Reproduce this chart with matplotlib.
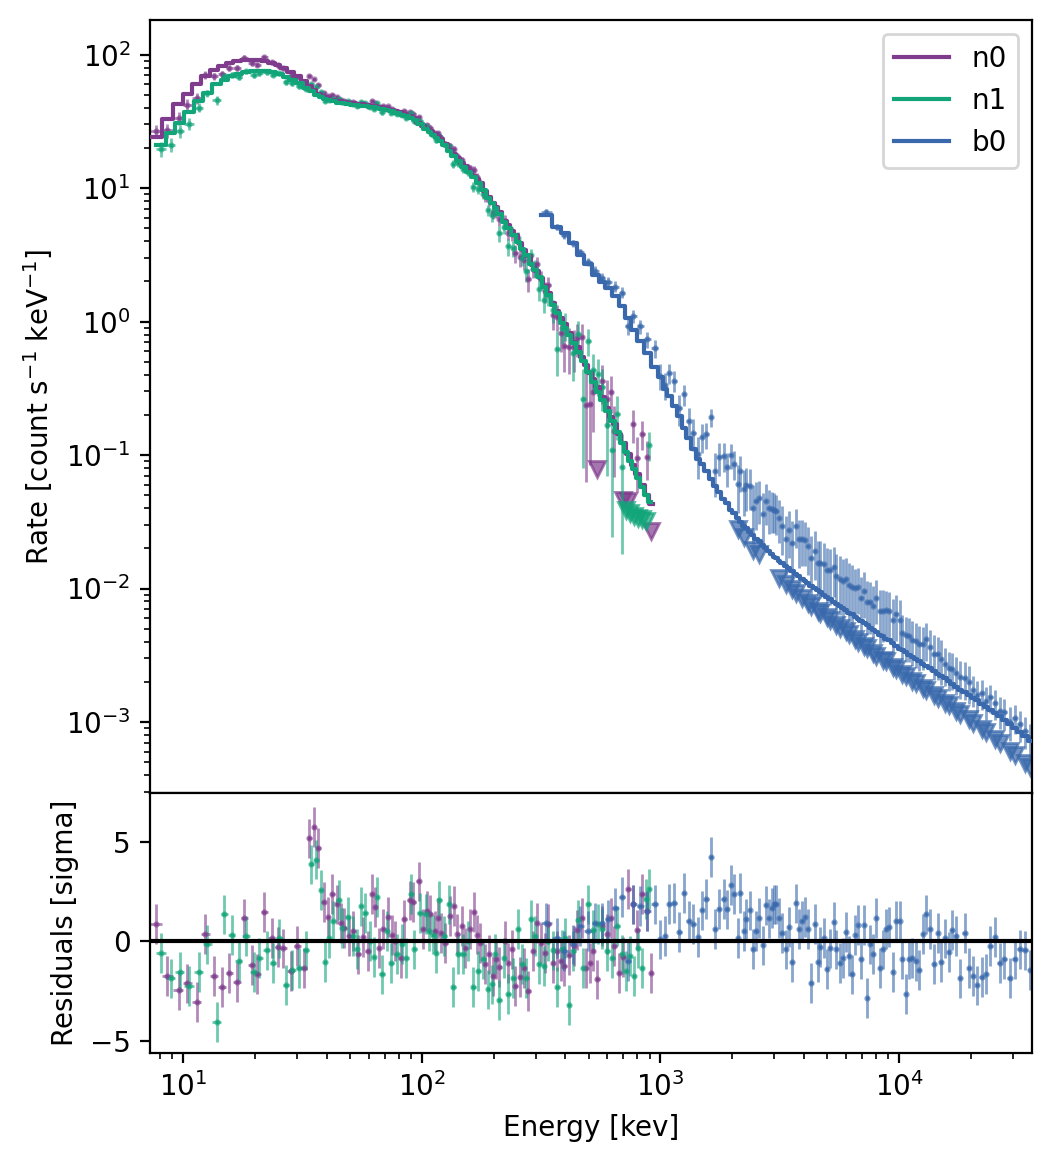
import numpy as np
import matplotlib
matplotlib.use("Agg")
from matplotlib import pyplot as plt

# ---------------- data ----------------
# n0 (NaI) : bin centres [keV], model rate, residual [sigma], relative error
n0_energy = [7.7, 8.6, 9.6, 10.4, 11.4, 12.4, 13.5, 14.6, 15.6, 16.9,
             18.1, 19.4, 20.5, 21.9, 23.6, 24.9, 26.2, 28.4, 30.1, 32.2,
             33.8, 35.5, 36.9, 38.8, 40.6, 42.3, 44.3, 45.8, 47.3, 49.7,
             51.6, 54.3, 56.8, 59.3, 62.1, 63.9, 66.4, 69.0, 72.5, 75.0,
             77.6, 81.6, 84.5, 89.6, 92.2, 97.8, 101.6, 105.6, 108.6, 113.9,
             117.3, 120.8, 125.6, 131.8, 136.9, 141, 147.9, 152.2, 159, 166.1,
             171, 176, 184.6, 191.9, 199.4, 205, 211.3, 223.9, 231, 239.5,
             246.6, 258.8, 268.9, 279.5, 293.3, 304.8, 316.8, 328, 339, 355.6,
             369.6, 384.1, 395.4, 415, 435.5, 448.3, 470.4, 489, 508, 523.1,
             543.6, 570.5, 598.7, 622.3, 640.5, 672.2, 698.6, 733.2, 769.5, 799.7,
             839, 880.6, 915]
n0_model = [24.3, 33, 43, 51, 60, 69, 77, 82, 86, 89,
            90.5, 91, 91, 90, 87, 84, 80, 74, 69, 63,
            58, 54, 51, 48.5, 47, 46, 45.2, 44.7, 44.3, 43.7,
            43.3, 42.8, 42.4, 42, 41.5, 41.2, 40.7, 40.1, 39.3, 38.7,
            38, 36.9, 36.2, 34.5, 33.4, 30.6, 29.2, 27.8, 26.9, 25.3,
            24.4, 23.4, 21.5, 19.4, 17.9, 16.9, 15.5, 14.6, 13.5, 12.4,
            11.8, 10.9, 9.6, 8.65, 7.8, 7.23, 6.67, 5.7, 5.25, 4.77,
            4.42, 3.88, 3.46, 3.08, 2.67, 2.38, 2.11, 1.86, 1.65, 1.39,
            1.21, 1.06, 0.964, 0.822, 0.703, 0.64, 0.542, 0.471, 0.41, 0.37,
            0.322, 0.271, 0.224, 0.193, 0.172, 0.143, 0.123, 0.102, 0.0843, 0.0725,
            0.06, 0.0498, 0.0428]
n0_resid = [0.84, -1.76, -2.48, -2.13, -3.05, 0.37, -1.76, -2.31, -1.59, -2.04,
            1.14, -1.21, -1.64, 1.47, 0.17, -0.3, -0.37, -1.51, -0.25, -1.34,
            5.16, 5.75, 4.69, 1.98, 1.2, 2.38, 1.84, 0.9, 0.67, 0.25,
            0.5, -0.67, 0.2, -0.5, 2.35, 1.7, -0.34, 0.59, 1.2, 0.3,
            0.0, -0.84, 1.09, 2.04, 1.98, 3.0, 0.62, 1.5, 1.34, 0.5,
            1.17, 0.4, -0.1, 1.26, 1.76, 0.37, 0.75, -0.33, 0.6, 1.47,
            0.33, -0.08, -1.17, -0.67, -1.76, -0.9, -1.3, 0.0, -1.1, -0.42,
            -2.26, -1.81, -1.34, -2.51, -0.5, 0.92, -0.08, -0.6, 0.84, -1.09,
            -0.5, -1.0, -1.26, -0.7, -0.25, 0.54, 1.17, -1.34, -1.09, -0.5,
            -1.93, 0.75, 0.37, 1.17, -0.25, -1.6, -0.8, 2.6, 1.84, 0.54,
            2.35, 1.5, -1.6]
n0_relerr = [0.12, 0.1, 0.09, 0.08, 0.07, 0.065, 0.06, 0.055, 0.05, 0.05,
             0.045, 0.045, 0.045, 0.04, 0.04, 0.04, 0.04, 0.04, 0.038, 0.038,
             0.038, 0.036, 0.036, 0.036, 0.035, 0.035, 0.035, 0.035, 0.035, 0.035,
             0.035, 0.035, 0.035, 0.035, 0.035, 0.035, 0.035, 0.035, 0.035, 0.035,
             0.036, 0.036, 0.037, 0.038, 0.038, 0.04, 0.04, 0.042, 0.043, 0.045,
             0.046, 0.048, 0.05, 0.053, 0.056, 0.058, 0.062, 0.065, 0.068, 0.072,
             0.075, 0.078, 0.082, 0.086, 0.09, 0.093, 0.097, 0.1, 0.105, 0.11,
             0.115, 0.12, 0.125, 0.13, 0.14, 0.15, 0.155, 0.16, 0.17, 0.18,
             0.2, 0.22, 0.25, 0.3, 0.32, 0.33, 0.35, 0.37, 0.38, 0.4,
             0.41, 0.43, 0.45, 0.47, 0.48, 0.5, 0.52, 0.54, 0.56, 0.58,
             0.6, 0.62, 0.64]
n0_ul_energy = [543.6, 698.6, 733.2, 915]
n0_ul_rate = [0.078, 0.046, 0.045, 0.027]

# n1 (NaI)
n1_energy = [8.1, 8.9, 9.7, 10.6, 11.7, 12.6, 13.9, 14.9, 16.1, 17.1,
             18.4, 19.8, 20.9, 22.5, 23.9, 25.3, 27.1, 28.7, 30.7, 32.8,
             34.4, 36.2, 38.0, 39.5, 41.1, 42.7, 45.2, 46.5, 48.9, 51.8,
             53.8, 55.9, 58.1, 60.9, 63.3, 64.9, 68.2, 71.6, 74.5, 78.9,
             82.9, 86.1, 90.5, 93.1, 98.8, 104.7, 107.6, 111.9, 115.2, 118.6,
             124.4, 130.5, 135.6, 142.3, 149.4, 156.7, 164.5, 172.6, 181.1, 190.1,
             197.5, 203.3, 211.3, 221.8, 230.5, 241.9, 253.8, 263.8, 274.2, 287.7,
             299.1, 310.9, 326.3, 339, 355.6, 369.6, 388, 399, 415, 431.5,
             452.6, 475, 498.5, 523, 549, 570.5, 598.7, 628, 659, 692,
             719, 747, 776.5, 807, 839, 872, 897.5]
n1_model = [21.2, 26, 31, 37, 45, 52, 60, 65, 69.5, 72,
            74, 75.5, 75.5, 75, 74, 72, 68.5, 65, 61, 56.5,
            53, 50, 48, 46.5, 45.5, 44.6, 43.7, 43.3, 42.8, 42.3,
            42.0, 41.6, 41.2, 40.7, 40.3, 40.0, 39.3, 38.5, 37.8, 36.7,
            35.6, 34.7, 33.3, 32.4, 30.2, 27.6, 26.4, 24.8, 23.6, 22.4,
            21.0, 19.0, 17.5, 15.9, 14.5, 13.2, 12.1, 11.0, 9.7, 8.5,
            7.7, 7.1, 6.4, 5.6, 5.07, 4.46, 3.94, 3.51, 3.13, 2.72,
            2.42, 2.15, 1.82, 1.58, 1.33, 1.16, 0.98, 0.90, 0.79, 0.695,
            0.595, 0.504, 0.422, 0.355, 0.298, 0.26, 0.215, 0.179, 0.149, 0.123,
            0.106, 0.091, 0.078, 0.067, 0.058, 0.050, 0.0445]
n1_resid = [-0.59, -1.88, -1.54, -2.26, -1.54, -0.17, -4.05, 1.34, 0.3, -1.0,
            0.25, -1.54, -0.84, -0.47, -1.09, 0.13, -2.21, -1.47, -1.37, -0.47,
            3.85, 4.1, 2.55, -1.04, 0.13, 1.0, 2.08, 0.67, 1.2, 0.25,
            -0.4, 1.74, 1.42, 0.0, -0.8, 2.21, -1.68, 0.5, -1.09, -0.64,
            -0.13, -0.84, 2.35, -0.42, 1.42, 1.37, 0.5, 0.33, -0.59, 2.04,
            0.25, 1.84, -2.31, -0.64, -0.64, 0.0, -2.31, -1.5, -0.92, -2.43,
            -2.18, -0.64, -2.98, -0.84, -2.65, -1.84, 0.59, -1.17, -1.84, 1.09,
            0.25, -1.17, -1.26, 0.0, -0.47, -2.31, -0.42, 0.17, -3.2, -0.5,
            1.04, -1.34, 1.84, 0.54, 0.84, 0.59, -0.5, -0.84, 0.75, -0.67,
            -1.5, -0.75, -1.76, -0.37, -1.34, 2.1, 2.6]
n1_relerr = [0.12, 0.1, 0.09, 0.08, 0.07, 0.065, 0.06, 0.055, 0.05, 0.05,
             0.045, 0.045, 0.045, 0.04, 0.04, 0.04, 0.04, 0.04, 0.038, 0.038,
             0.038, 0.036, 0.036, 0.036, 0.035, 0.035, 0.035, 0.035, 0.035, 0.035,
             0.035, 0.035, 0.035, 0.035, 0.035, 0.035, 0.035, 0.035, 0.035, 0.036,
             0.036, 0.037, 0.038, 0.038, 0.04, 0.042, 0.043, 0.045, 0.046, 0.047,
             0.05, 0.053, 0.056, 0.058, 0.062, 0.065, 0.068, 0.072, 0.076, 0.08,
             0.085, 0.09, 0.095, 0.1, 0.105, 0.11, 0.115, 0.12, 0.13, 0.14,
             0.15, 0.155, 0.16, 0.17, 0.18, 0.2, 0.22, 0.25, 0.28, 0.32,
             0.34, 0.36, 0.38, 0.4, 0.42, 0.43, 0.45, 0.47, 0.49, 0.51,
             0.53, 0.55, 0.57, 0.59, 0.61, 0.63, 0.65]
n1_ul_energy = [719, 747, 776.5, 807, 839, 872]
n1_ul_rate = [0.039, 0.037, 0.035, 0.034, 0.033, 0.032]

# b0 (BGO)
b0_energy = [333, 370, 396, 431, 462, 499, 534, 571, 605, 647,
             692, 733, 770, 823, 881, 951, 1000, 1050, 1091, 1144,
             1200, 1260, 1311, 1375, 1443, 1492, 1555, 1627, 1696, 1763,
             1838, 1898, 1973, 2025, 2104, 2159, 2230, 2288, 2362, 2432,
             2519, 2585, 2678, 2756, 2838, 2931, 2998, 3055, 3135, 3217,
             3342, 3440, 3553, 3693, 3790, 3913, 4040, 4132, 4280, 4421,
             4550, 4669, 4822, 4979, 5109, 5309, 5447, 5625, 5790, 5960,
             6155, 6336, 6543, 6713, 6911, 7136, 7322, 7562, 7758, 8012,
             8274, 8543, 8794, 9053, 9378, 9685, 10030, 10295, 10630, 11015,
             11338, 11706, 12090, 12526, 12976, 13400, 13925, 14470, 14944, 15480,
             16090, 16672, 17326, 18010, 18776, 19516, 20349, 21150, 22195, 23140,
             24050, 25240, 26320, 27530, 28980, 30410, 31910, 33710, 35380]
b0_model = [6.3, 5.1, 4.6, 3.9, 3.15, 2.7, 2.25, 1.98, 1.78, 1.55,
            1.3, 1.07, 0.87, 0.72, 0.58, 0.46, 0.385, 0.315, 0.275, 0.235,
            0.197, 0.16, 0.135, 0.112, 0.094, 0.085, 0.076, 0.066, 0.059, 0.053,
            0.047, 0.0435, 0.0388, 0.0365, 0.0335, 0.0315, 0.0295, 0.0282, 0.0266, 0.0252,
            0.0237, 0.0226, 0.0212, 0.0201, 0.0191, 0.0180, 0.0173, 0.0168, 0.0162, 0.0156,
            0.0148, 0.0142, 0.0136, 0.0129, 0.0124, 0.0118, 0.0113, 0.0110, 0.0105, 0.0101,
            0.0097, 0.0094, 0.0090, 0.0086, 0.0083, 0.0079, 0.0077, 0.0074, 0.0071, 0.0069,
            0.0066, 0.0064, 0.0061, 0.0059, 0.0057, 0.0055, 0.0053, 0.0051, 0.0049, 0.0047,
            0.0045, 0.0044, 0.0042, 0.0041, 0.0039, 0.0037, 0.00355, 0.00344, 0.00332, 0.00318,
            0.00307, 0.00296, 0.00285, 0.00273, 0.00262, 0.00252, 0.00241, 0.00230, 0.00221, 0.00212,
            0.00202, 0.00193, 0.00184, 0.00175, 0.00167, 0.00160, 0.00152, 0.00145, 0.00137, 0.00130,
            0.00123, 0.00116, 0.00110, 0.00103, 0.00096, 0.00090, 0.00084, 0.00078, 0.00072]
b0_resid = [0.92, 0.17, -0.5, -0.17, 0.75, 0.5, 0.92, 0.92, 1.09, 1.68,
            2.21, -1.0, 1.84, 1.76, 1.5, 1.84, 0.08, 0.25, 1.88, 1.93,
            0.47, 2.43, 1.0, 0.87, 0.2, 1.54, 2.1, 4.24, 0.62, 1.62,
            2.13, 1.59, 2.81, 2.35, 0.17, 2.4, 0.5, 1.12, 1.54, -0.39,
            0.5, 1.17, -0.22, 1.79, 1.14, 1.68, 1.84, 1.84, 1.17, 0.42,
            -0.42, 0.72, -1.04, 1.89, 0.62, 1.0, 1.22, 0.62, -2.1, 0.84,
            -1.04, -0.29, 0.17, -1.42, -0.37, 0.97, -0.42, -1.09, -0.84, 0.47,
            -0.75, -1.68, 0.3, 0.79, -0.89, 0.79, -2.85, -0.17, -0.64, 1.17,
            -1.34, -0.42, 0.62, 0.7, -1.54, 1.0, 1.0, -0.89, -2.68, -0.92,
            -0.87, -1.0, -1.47, 0.37, 1.34, 0.62, -1.17, 0.42, -1.04, 0.13,
            -0.54, 0.54, 0.25, -1.88, 0.39, -1.34, -1.76, -2.23, -1.81, -1.64,
            -0.25, 0.22, -1.09, -0.89, -1.84, -0.89, -0.42, -0.47, -1.47]
b0_ratio = [1.05, 1.01, 0.97, 0.99, 1.05, 1.04, 1.07, 1.08, 1.11, 1.18,
            1.27, 0.87, 1.26, 1.28, 1.27, 1.37, 1.02, 1.06, 1.49, 1.54,
            1.14, 1.78, 1.34, 1.31, 1.08, 1.62, 1.88, 2.91, 1.29, 1.81,
            2.11, 1.86, 2.57, 2.36, 1.8, 2.4, 1.9, 2.1, 2.2, 1.6,
            1.9, 2.1, 1.7, 2.25, 2.1, 2.2, 2.25, 2.25, 2.1, 1.9,
            1.6, 1.95, 1.6, 2.3, 1.9, 2.0, 2.05, 1.9, 1.6, 1.9,
            1.6, 1.65, 1.7, 1.6, 1.65, 1.85, 1.6, 1.6, 1.6, 1.7,
            1.6, 1.6, 1.65, 1.75, 1.5, 1.75, 1.5, 1.55, 1.5, 1.8,
            1.5, 1.55, 1.65, 1.65, 1.5, 1.75, 1.65, 1.35, 1.35, 1.38,
            1.35, 1.36, 1.35, 1.4, 1.6, 1.45, 1.35, 1.4, 1.35, 1.28,
            1.25, 1.3, 1.27, 1.25, 1.28, 1.25, 1.15, 1.1, 1.2, 1.1,
            1.25, 1.2, 1.1, 1.15, 1.05, 1.2, 1.15, 1.1, 1.05]
b0_relerr = [0.05, 0.055, 0.06, 0.065, 0.07, 0.075, 0.08, 0.09, 0.1, 0.11,
             0.12, 0.13, 0.14, 0.16, 0.18, 0.2, 0.22, 0.24, 0.26, 0.28,
             0.3, 0.32, 0.34, 0.36, 0.38, 0.4, 0.42, 0.45, 0.47, 0.5,
             0.52, 0.54, 0.56, 0.58, 0.7, 0.72, 0.72, 0.74, 0.74, 0.75,
             0.75, 0.75, 0.75, 0.75, 0.75, 0.75, 0.75, 0.75, 0.75, 0.75,
             0.75, 0.75, 0.75, 0.75, 0.75, 0.75, 0.75, 0.75, 0.75, 0.75,
             0.75, 0.75, 0.75, 0.75, 0.75, 0.75, 0.75, 0.75, 0.75, 0.75,
             0.75, 0.75, 0.65, 0.65, 0.65, 0.65, 0.65, 0.65, 0.65, 0.65,
             0.65, 0.65, 0.65, 0.65, 0.65, 0.65, 0.65, 0.5, 0.5, 0.5,
             0.5, 0.5, 0.5, 0.5, 0.5, 0.5, 0.5, 0.5, 0.5, 0.4,
             0.4, 0.4, 0.4, 0.4, 0.4, 0.4, 0.3, 0.3, 0.3, 0.3,
             0.3, 0.3, 0.3, 0.3, 0.3, 0.3, 0.3, 0.3, 0.3]
b0_ul_energy = [2104, 2230, 2432, 2585,
                3135, 3342, 3553, 3693, 3913, 4132, 4280, 4550, 4669, 4979,
                5109, 5447, 5625, 5960, 6155, 6543, 6713, 7136, 7322, 7758,
                8012, 8543, 8794, 9378, 9685, 10295, 10630, 11338, 11706, 12526,
                12976, 13925, 14470, 15480, 16090, 17326, 18010, 19516, 20349, 22195,
                23140, 25240, 26320, 28980, 30410, 33710, 35380]
b0_ul_rate = [0.028, 0.0245, 0.0195, 0.0182,
              0.0119, 0.0108, 0.0099, 0.0093, 0.0085, 0.0078, 0.0074, 0.0068, 0.0066, 0.0061,
              0.0058, 0.0053, 0.0051, 0.0048, 0.0046, 0.0042, 0.0040, 0.0037, 0.0036, 0.0033,
              0.0031, 0.0029, 0.00285, 0.0026, 0.0025, 0.0023, 0.0022, 0.00204, 0.00197, 0.00181,
              0.00174, 0.0016, 0.00152, 0.0014, 0.00133, 0.00121, 0.00115, 0.00105, 0.00099, 0.00088,
              0.00084, 0.00074, 0.0007, 0.00061, 0.00057, 0.00049, 0.00046]

colors = {'n0': '#7F3C8D', 'n1': '#11A579', 'b0': '#3969AC'}


def bin_edges(centers):
    c = np.asarray(centers, dtype=float)
    mid = np.sqrt(c[1:] * c[:-1])
    return np.concatenate([[c[0] ** 2 / mid[0]], mid, [c[-1] ** 2 / mid[-1]]])


fig = plt.figure(figsize=(5.26, 5.8), dpi=200)
ax = fig.add_axes([0.1426, 0.3164, 0.8384, 0.6664])
axr = fig.add_axes([0.1426, 0.0922, 0.8384, 0.2241], sharex=ax)

dets = [
    ('n0', n0_energy, n0_model, n0_resid, n0_relerr, None, n0_ul_energy, n0_ul_rate),
    ('n1', n1_energy, n1_model, n1_resid, n1_relerr, None, n1_ul_energy, n1_ul_rate),
    ('b0', b0_energy, b0_model, b0_resid, b0_relerr, b0_ratio, b0_ul_energy, b0_ul_rate),
]

model_lines = []
for name, energy, model, resid, relerr, ratio, ul_e, ul_r in dets:
    c = colors[name]
    e = np.asarray(energy, float)
    m = np.asarray(model, float)
    r = np.asarray(resid, float)
    rel = np.asarray(relerr, float)
    edges = bin_edges(e)
    xerr = np.vstack([e - edges[:-1], edges[1:] - e])

    if ratio is None:
        rate = m * (1 + r * rel)
        show = ~np.isin(e, ul_e)
    else:
        rate = m * np.asarray(ratio, float)
        show = np.ones(len(e), bool)
    err = m * rel
    show &= (rate - err) > 0

    ax.errorbar(e[show], rate[show], xerr=xerr[:, show], yerr=err[show],
                fmt='.', ms=2.5, color=c, ecolor=c, elinewidth=1, capsize=0,
                alpha=0.6, zorder=2)
    ax.plot(ul_e, ul_r, 'v', ms=5.5, color=c, alpha=0.7, zorder=2)

    line, = ax.plot(edges, np.append(m, m[-1]), drawstyle='steps-post',
                    color=c, lw=1.5, label=name, zorder=3)
    model_lines.append(line)

    axr.errorbar(e, r, xerr=xerr, yerr=np.ones(len(e)), fmt='.', ms=2.5,
                 color=c, ecolor=c, elinewidth=1, capsize=0, alpha=0.6)

axr.axhline(0, color='black', lw=1.5, zorder=5)

ax.set_xscale('log')
ax.set_yscale('log')
ax.set_xlim(7.28, 36000)
ax.set_ylim(2.94e-4, 182)
axr.set_ylim(-5.63, 7.44)
ax.tick_params(labelbottom=False)

ax.set_ylabel(r'Rate [count s$^{-1}$ keV$^{-1}$]')
axr.set_ylabel('Residuals [sigma]')
axr.set_xlabel('Energy [kev]')
ax.legend(handles=model_lines, loc='upper right')

fig.savefig('out.png', dpi=200)
